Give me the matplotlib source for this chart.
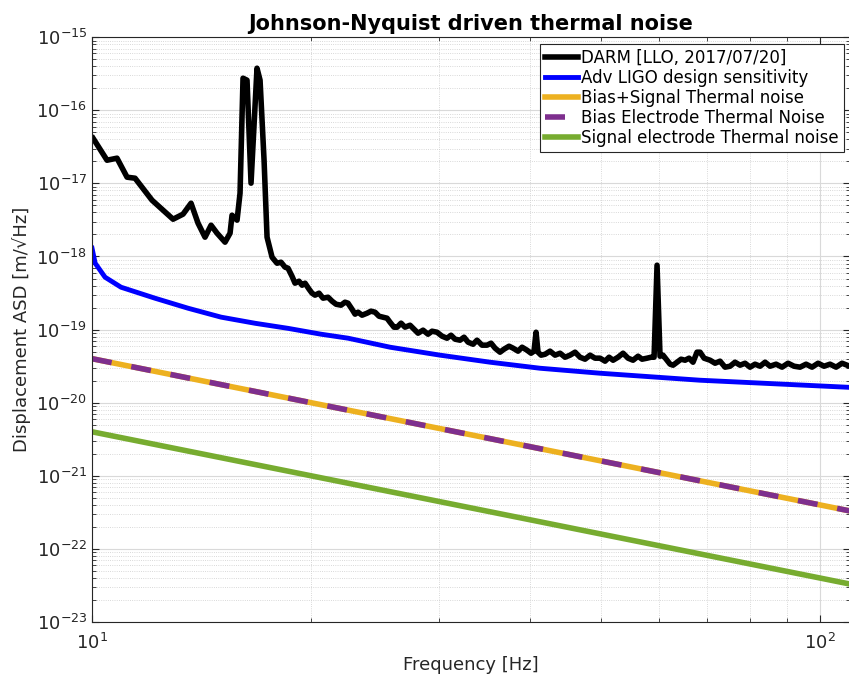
import numpy as np
import matplotlib
matplotlib.use('Agg')
import matplotlib.pyplot as plt
from matplotlib.ticker import NullFormatter

# DARM spectrum [LLO, 2017/07/20] as log10(f / Hz), log10(ASD / m/rtHz)
darm_log_f = [1.0014, 1.0206, 1.0343, 1.0481, 1.0591, 1.0824, 1.1113, 1.1250, 1.1360, 1.1456,
              1.1552, 1.1635, 1.1717, 1.1827, 1.1896, 1.1923, 1.1992, 1.2033, 1.2074, 1.2129,
              1.2184, 1.2266, 1.2308, 1.2363, 1.2404, 1.2473, 1.2541, 1.2596, 1.2651, 1.2692,
              1.2747, 1.2788, 1.2843, 1.2885, 1.2926, 1.2981, 1.3022, 1.3063, 1.3118, 1.3173,
              1.3242, 1.3297, 1.3352, 1.3420, 1.3475, 1.3516, 1.3571, 1.3613, 1.3654, 1.3709,
              1.3777, 1.3832, 1.3887, 1.3942, 1.3997, 1.4052, 1.4093, 1.4148, 1.4190, 1.4245,
              1.4299, 1.4368, 1.4423, 1.4478, 1.4547, 1.4615, 1.4670, 1.4739, 1.4808, 1.4876,
              1.4931, 1.4986, 1.5055, 1.5110, 1.5165, 1.5234, 1.5288, 1.5357, 1.5426, 1.5481,
              1.5536, 1.5604, 1.5659, 1.5728, 1.5783, 1.5852, 1.5907, 1.5975, 1.6030, 1.6071,
              1.6099, 1.6126, 1.6168, 1.6223, 1.6291, 1.6360, 1.6429, 1.6497, 1.6566, 1.6635,
              1.6703, 1.6772, 1.6841, 1.6909, 1.6978, 1.7047, 1.7102, 1.7157, 1.7225, 1.7294,
              1.7363, 1.7431, 1.7500, 1.7555, 1.7624, 1.7679, 1.7720, 1.7761, 1.7802, 1.7843,
              1.7898, 1.7940, 1.7981, 1.8036, 1.8091, 1.8146, 1.8201, 1.8255, 1.8310, 1.8352,
              1.8407, 1.8489, 1.8558, 1.8626, 1.8695, 1.8764, 1.8832, 1.8901, 1.8970, 1.9038,
              1.9107, 1.9176, 1.9245, 1.9313, 1.9396, 1.9478, 1.9560, 1.9643, 1.9725, 1.9808,
              1.9890, 1.9973, 2.0055, 2.0137, 2.0220, 2.0302, 2.0371]
darm_log_asd = [-16.382, -16.683, -16.655, -16.915, -16.929, -17.230, -17.490, -17.421, -17.271, -17.544,
                -17.736, -17.572, -17.681, -17.804, -17.681, -17.435, -17.503, -17.134, -15.561, -15.588,
                -16.997, -15.424, -15.588, -16.683, -17.736, -18.010, -18.092, -18.078, -18.146, -18.160,
                -18.270, -18.365, -18.338, -18.393, -18.365, -18.447, -18.502, -18.529, -18.502, -18.570,
                -18.557, -18.611, -18.653, -18.666, -18.625, -18.639, -18.721, -18.789, -18.762, -18.803,
                -18.776, -18.748, -18.762, -18.817, -18.830, -18.844, -18.899, -18.967, -18.967, -18.912,
                -18.967, -18.940, -18.995, -19.049, -19.008, -19.063, -19.022, -19.036, -19.090, -19.118,
                -19.077, -19.131, -19.145, -19.104, -19.172, -19.200, -19.145, -19.213, -19.213, -19.186,
                -19.254, -19.309, -19.268, -19.227, -19.254, -19.295, -19.241, -19.282, -19.323, -19.295,
                -19.036, -19.309, -19.350, -19.337, -19.295, -19.350, -19.323, -19.378, -19.350, -19.309,
                -19.378, -19.405, -19.350, -19.391, -19.391, -19.432, -19.378, -19.419, -19.378, -19.323,
                -19.391, -19.419, -19.364, -19.405, -19.391, -19.378, -19.378, -18.119, -19.364, -19.350,
                -19.419, -19.473, -19.487, -19.446, -19.405, -19.419, -19.391, -19.446, -19.309, -19.309,
                -19.391, -19.419, -19.460, -19.432, -19.514, -19.501, -19.446, -19.487, -19.460, -19.514,
                -19.473, -19.501, -19.446, -19.501, -19.473, -19.514, -19.460, -19.501, -19.514, -19.473,
                -19.514, -19.460, -19.501, -19.473, -19.514, -19.460, -19.487]

# Adv LIGO design sensitivity
aligo_f = [10.0, 10.10, 10.42, 10.96, 12.20, 13.55, 15.04, 16.75, 18.59, 20.63,
           22.47, 25.67, 30.06, 35.22, 41.25, 49.87, 68.4, 110.0]
aligo_asd = [1.30e-18, 8.09e-19, 5.21e-19, 3.80e-19, 2.69e-19, 1.96e-19, 1.48e-19, 1.22e-19, 1.04e-19, 8.65e-20,
             7.63e-20, 5.74e-20, 4.47e-20, 3.58e-20, 2.96e-20, 2.53e-20, 2.03e-20, 1.62e-20]

# thermal noise estimates (straight lines in log-log)
thermal_f = [10.0, 110.0]
both_asd = [4.0e-20, 3.3e-22]
bias_asd = [4.0e-20, 3.3e-22]
signal_asd = [4.0e-21, 3.3e-23]

major_y = [1e-23, 1e-22, 1e-21, 1e-20, 1e-19, 1e-18, 1e-17, 1e-16, 1e-15]

plt.rcParams['font.family'] = ['DejaVu Sans']

fig = plt.figure(figsize=(8.49, 6.8), dpi=100)
ax = fig.add_axes([0.1084, 0.0853, 0.893, 0.860])

ax.loglog(10 ** np.array(darm_log_f), 10 ** np.array(darm_log_asd), color='black', lw=4,
          solid_joinstyle='round', label='DARM [LLO, 2017/07/20]')
ax.loglog(aligo_f, aligo_asd, color='blue', lw=3.5, label='Adv LIGO design sensitivity')
ax.loglog(thermal_f, both_asd, color='#EDB120', lw=4, label='Bias+Signal Thermal noise')
ax.loglog(thermal_f, bias_asd, color='#7E2F8E', lw=4, dashes=(3.6, 3.6),
          dash_capstyle='butt', label='Bias Electrode Thermal Noise')
ax.loglog(thermal_f, signal_asd, color='#77AC30', lw=4, label='Signal electrode Thermal noise')

ax.set_xlim(10, 110)
ax.set_ylim(1e-23, 1e-15)
ax.set_yticks(major_y)
ax.set_yticks([m * d for d in major_y[:-1] for m in range(2, 10)], minor=True)
ax.set_xticks([10, 100])
ax.set_xticks([20, 30, 40, 50, 60, 70, 80, 90, 110], minor=True)
ax.yaxis.set_minor_formatter(NullFormatter())
ax.xaxis.set_minor_formatter(NullFormatter())

ax.grid(True, which='major', color='#d9d9d9', lw=0.8, ls='-')
ax.grid(True, which='minor', color='#cccccc', lw=0.6, ls=':')
ax.set_axisbelow(True)
ax.tick_params(which='both', direction='in', top=True, right=True, labelsize=13, colors='#262626')
ax.tick_params(which='major', length=5)
ax.tick_params(which='minor', length=3)
ax.tick_params(axis='x', which='major', pad=8)
for s in ax.spines.values():
    s.set_color('#262626')
    s.set_linewidth(0.8)

ax.set_title('Johnson-Nyquist driven thermal noise', fontsize=15, fontweight='bold', pad=5)
ax.set_xlabel('Frequency [Hz]', fontsize=13, color='#262626', labelpad=2)
ax.set_ylabel('Displacement ASD [m/\u221aHz]', fontsize=13, color='#262626')

leg = ax.legend(loc='upper right', fontsize=12, handlelength=2.0, handletextpad=0.15,
                borderpad=0.3, labelspacing=0.12, fancybox=False, framealpha=1,
                edgecolor='#262626', borderaxespad=0.4)
leg.get_frame().set_linewidth(0.8)

fig.savefig('out.png', dpi=100)
